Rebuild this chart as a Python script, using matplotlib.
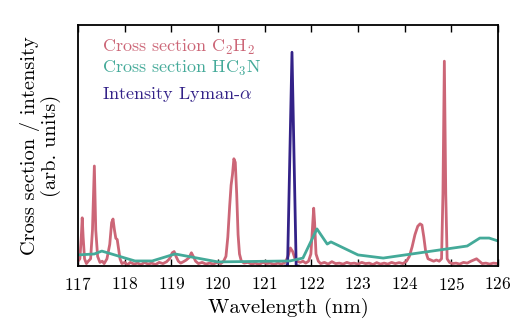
import matplotlib
matplotlib.use('Agg')
import matplotlib.pyplot as plt

plt.rcParams['font.family'] = 'cmr10'
plt.rcParams['mathtext.fontset'] = 'cm'
plt.rcParams['axes.formatter.use_mathtext'] = True
plt.rcParams['axes.unicode_minus'] = False

# C2H2 cross section (arb. units)
c2h2_wl = [117.00, 117.04, 117.07, 117.09, 117.11, 117.14, 117.18, 117.22, 117.27, 117.31,
           117.35, 117.38, 117.42, 117.47, 117.52, 117.56, 117.62, 117.68, 117.72, 117.75,
           117.78, 117.81, 117.84, 117.87, 117.90, 117.94, 118.00, 118.06, 118.12, 118.20,
           118.28, 118.35, 118.42, 118.50, 118.58, 118.66, 118.74, 118.82, 118.90, 118.96,
           119.02, 119.06, 119.10, 119.15, 119.20, 119.26, 119.32, 119.38, 119.43, 119.47,
           119.52, 119.58, 119.66, 119.74, 119.82, 119.90, 119.98, 120.06, 120.12, 120.17,
           120.21, 120.25, 120.28, 120.31, 120.34, 120.37, 120.40, 120.43, 120.46, 120.50,
           120.56, 120.64, 120.72, 120.80, 120.88, 120.96, 121.04, 121.12, 121.20, 121.28,
           121.36, 121.44, 121.50, 121.55, 121.60, 121.65, 121.70, 121.76, 121.82, 121.88,
           121.94, 121.99, 122.03, 122.05, 122.07, 122.10, 122.15, 122.20, 122.28, 122.36,
           122.44, 122.52, 122.60, 122.68, 122.76, 122.84, 122.92, 123.00, 123.08, 123.16,
           123.24, 123.32, 123.40, 123.48, 123.56, 123.64, 123.72, 123.80, 123.88, 123.96,
           124.04, 124.10, 124.16, 124.22, 124.28, 124.33, 124.37, 124.41, 124.45, 124.50,
           124.56, 124.62, 124.68, 124.74, 124.79, 124.82, 124.85, 124.88, 124.91, 124.96,
           125.02, 125.10, 125.18, 125.26, 125.34, 125.42, 125.48, 125.54, 125.60, 125.66,
           125.74, 125.82, 125.90, 126.00]
c2h2_xs = [0.02, 0.03, 0.12, 0.20, 0.12, 0.03, 0.01, 0.02, 0.03, 0.15,
           0.415, 0.15, 0.04, 0.015, 0.02, 0.01, 0.03, 0.09, 0.18, 0.195,
           0.15, 0.115, 0.11, 0.07, 0.03, 0.01, 0.015, 0.005, 0.015, 0.008,
           0.012, 0.005, 0.015, 0.008, 0.012, 0.006, 0.015, 0.01, 0.018, 0.03,
           0.055, 0.06, 0.04, 0.02, 0.012, 0.018, 0.025, 0.035, 0.055, 0.04,
           0.02, 0.01, 0.015, 0.008, 0.012, 0.008, 0.015, 0.01, 0.02, 0.04,
           0.12, 0.25, 0.335, 0.38, 0.445, 0.43, 0.30, 0.13, 0.05, 0.02,
           0.012, 0.015, 0.008, 0.012, 0.006, 0.015, 0.01, 0.012, 0.006, 0.012,
           0.008, 0.015, 0.04, 0.075, 0.06, 0.03, 0.02, 0.015, 0.02, 0.012,
           0.02, 0.05, 0.18, 0.24, 0.18, 0.05, 0.02, 0.01, 0.015, 0.008,
           0.018, 0.01, 0.012, 0.008, 0.015, 0.01, 0.012, 0.008, 0.015, 0.01,
           0.012, 0.006, 0.014, 0.008, 0.012, 0.008, 0.015, 0.01, 0.014, 0.01,
           0.02, 0.04, 0.08, 0.13, 0.165, 0.175, 0.17, 0.12, 0.06, 0.03,
           0.025, 0.02, 0.025, 0.02, 0.03, 0.30, 0.85, 0.30, 0.03, 0.015,
           0.01, 0.012, 0.008, 0.015, 0.012, 0.02, 0.025, 0.03, 0.02, 0.01,
           0.012, 0.008, 0.012, 0.01]

# HC3N cross section (arb. units)
hc3n_wl = [117.00, 117.35, 117.51, 118.01, 118.22, 118.59, 119.08, 120.00, 121.54,
           121.82, 122.12, 122.34, 122.42, 123.00, 123.54, 125.34, 125.61, 125.81, 126.00]
hc3n_xs = [0.046, 0.05, 0.062, 0.033, 0.021, 0.021, 0.05, 0.017, 0.021,
           0.033, 0.154, 0.091, 0.10, 0.046, 0.033, 0.083, 0.116, 0.116, 0.104]

# Lyman-alpha intensity
lya_wl = [121.45, 121.49, 121.585, 121.675, 121.72]
lya_int = [0.0, 0.0, 0.887, 0.0, 0.0]

labels = ['Cross section C$_2$H$_2$', 'Cross section HC$_3$N', r'Intensity Lyman-$\alpha$']

red = '#CC6677'
teal = '#44AA99'
blue = '#332288'

fig = plt.figure(figsize=(5.25, 3.25), dpi=100)
ax = fig.add_axes([0.1486, 0.1815, 0.80, 0.7415])

ax.plot(c2h2_wl, c2h2_xs, color=red, lw=2)
ax.plot(lya_wl, lya_int, color=blue, lw=2)
ax.plot(hc3n_wl, hc3n_xs, color=teal, lw=2)

# colored text legend, no handles
for lab, col, yb in zip(labels, [red, teal, blue], [0.888, 0.801, 0.693]):
    ax.text(0.057, yb, lab, color=col, fontsize=13, va='baseline', transform=ax.transAxes)

ax.set_xlim(117, 126)
ax.set_ylim(0, 1)
ax.set_xticks(range(117, 127))
ax.set_yticks([])
ax.tick_params(axis='x', direction='in', top=True, length=5, width=1, labelsize=12.5, pad=7)
for s in ax.spines.values():
    s.set_linewidth(1.3)

ax.set_xlabel('Wavelength (nm)', fontsize=15, labelpad=4)
ax.set_ylabel('Cross section / intensity\n(arb. units)', fontsize=14.7, linespacing=1.05, labelpad=12)

fig.savefig('out.png', dpi=100)
